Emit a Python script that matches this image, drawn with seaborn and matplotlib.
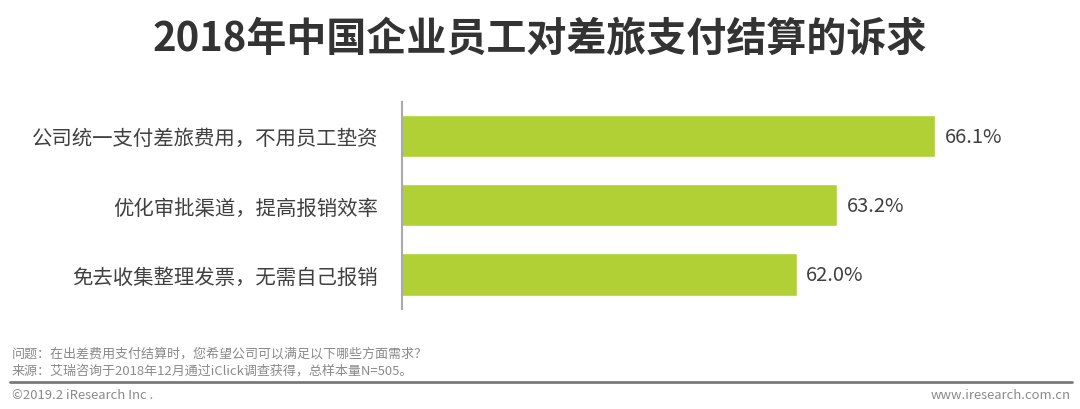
import pandas as pd
import matplotlib.pyplot as plt
import seaborn as sns
from matplotlib.lines import Line2D

# ── Données
categories = ["公司统一支付差旅费用，不用员工垫资",
              "优化审批渠道，提高报销效率",
              "免去收集整理发票，无需自己报销"]
values = [66.1, 63.2, 62.0]
value_labels = ["66.1%", "63.2%", "62.0%"]

title = "2018年中国企业员工对差旅支付结算的诉求"
note_question = "问题：在出差费用支付结算时，您希望公司可以满足以下哪些方面需求？"
note_source = "来源：艾瑞咨询于2018年12月通过iClick调查获得，总样本量N=505。"
copyright_txt = "©2019.2 iResearch Inc ."
website = "www.iresearch.com.cn"

df = pd.DataFrame({"cat": categories, "val": values})

sns.set_theme(style="white")
plt.rcParams['font.family'] = ['Noto Sans CJK SC', 'DejaVu Sans']

fig = plt.figure(figsize=(10.8, 4.1), dpi=100)
ax = fig.add_axes([0.372, 0.244, 0.591, 0.505])

sns.barplot(data=df, x="val", y="cat", orient="h", color="#b0d035",
            saturation=1, width=0.61, ax=ax)

ax.set_xlim(50.3, 69.2)
ax.set_ylim(2.5, -0.5)
ax.set_xlabel("")
ax.set_ylabel("")
ax.set_xticks([])
for s in ["top", "right", "bottom"]:
    ax.spines[s].set_visible(False)
ax.spines["left"].set_color("#aaaaaa")
ax.spines["left"].set_linewidth(1.5)
ax.tick_params(axis="y", length=0, pad=17, labelsize=14.7, labelcolor="#404040")

for i, (v, lab) in enumerate(zip(values, value_labels)):
    ax.text(v + 0.28, i, lab, va="center", ha="left", fontsize=14.5, color="#404040")

fig.text(0.5, 0.905, title, ha="center", va="center", fontsize=28.8,
         fontweight="bold", color="#333333")

fig.text(0.011, 0.137, note_question, ha="left", va="center", fontsize=9.4, color="#8a8a8a")
fig.text(0.011, 0.095, note_source, ha="left", va="center", fontsize=9.4, color="#8a8a8a")
fig.add_artist(Line2D([0.009, 0.993], [0.066, 0.066], color="#7a7a7a", lw=2))
fig.text(0.011, 0.036, copyright_txt, ha="left", va="center", fontsize=9.4, color="#8a8a8a")
fig.text(0.991, 0.036, website, ha="right", va="center", fontsize=9.4, color="#8a8a8a")

plt.savefig("out.png", dpi=100)
